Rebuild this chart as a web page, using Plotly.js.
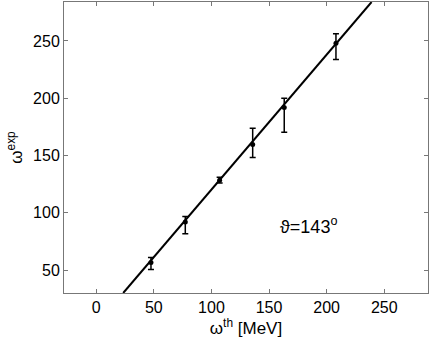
<!DOCTYPE html>
<html>
<head>
<meta charset="utf-8">
<script src="https://cdn.plot.ly/plotly-3.0.1.min.js"></script>
<style>body{margin:0;padding:0;background:#fff}</style>
</head>
<body>
<div id="plotArea" style="width:436px;height:339px"></div>
<script>
var omegaTh = [47.5, 77.3, 107.1, 135.8, 163.2, 208.1];
var omegaExp = [56.7, 92.0, 128.5, 159.6, 191.9, 248.0];
var errPlus = [4.3, 4.8, 2.5, 14.2, 8.1, 8.2];
var errMinus = [6.1, 10.3, 2.5, 11.3, 21.6, 14.2];

var fitX = [23.4, 239];
var fitY = [30, 284];

var points = {
  x: omegaTh,
  y: omegaExp,
  mode: 'markers',
  type: 'scatter',
  marker: { size: 5, color: '#000' },
  error_y: {
    type: 'data',
    symmetric: false,
    array: errPlus,
    arrayminus: errMinus,
    color: '#000',
    thickness: 1.5,
    width: 3
  },
  cliponaxis: false
};

var fit = {
  x: fitX,
  y: fitY,
  mode: 'lines',
  type: 'scatter',
  line: { color: '#000', width: 2 }
};

var layout = {
  width: 436,
  height: 339,
  margin: { l: 64, r: 8, t: 2, b: 46 },
  showlegend: false,
  paper_bgcolor: '#fff',
  plot_bgcolor: '#fff',
  font: { family: 'Liberation Sans, Arial, sans-serif', size: 16, color: '#000' },
  xaxis: {
    range: [-28, 288],
    tickvals: [0, 50, 100, 150, 200, 250],
    ticks: 'inside',
    ticklen: 4,
    tickcolor: '#777',
    showline: true,
    linecolor: '#777',
    linewidth: 1,
    mirror: 'ticks',
    showgrid: false,
    zeroline: false,
    title: { text: 'ω<sup>th</sup> [MeV]', standoff: 0, font: { size: 17 } }
  },
  yaxis: {
    range: [30, 284],
    tickvals: [50, 100, 150, 200, 250],
    ticks: 'inside',
    ticklen: 4,
    tickcolor: '#777',
    showline: true,
    linecolor: '#777',
    linewidth: 1,
    mirror: 'ticks',
    showgrid: false,
    zeroline: false,
    title: { text: 'ω<sup>exp</sup>', standoff: 6, font: { size: 17 } }
  },
  annotations: [{
    x: 184.6, y: 89, xref: 'x', yref: 'y',
    text: 'ϑ=143<sup>o</sup>',
    showarrow: false,
    font: { size: 18 }
  }]
};

Plotly.newPlot('plotArea', [fit, points], layout, { displayModeBar: false });
</script>
</body>
</html>
